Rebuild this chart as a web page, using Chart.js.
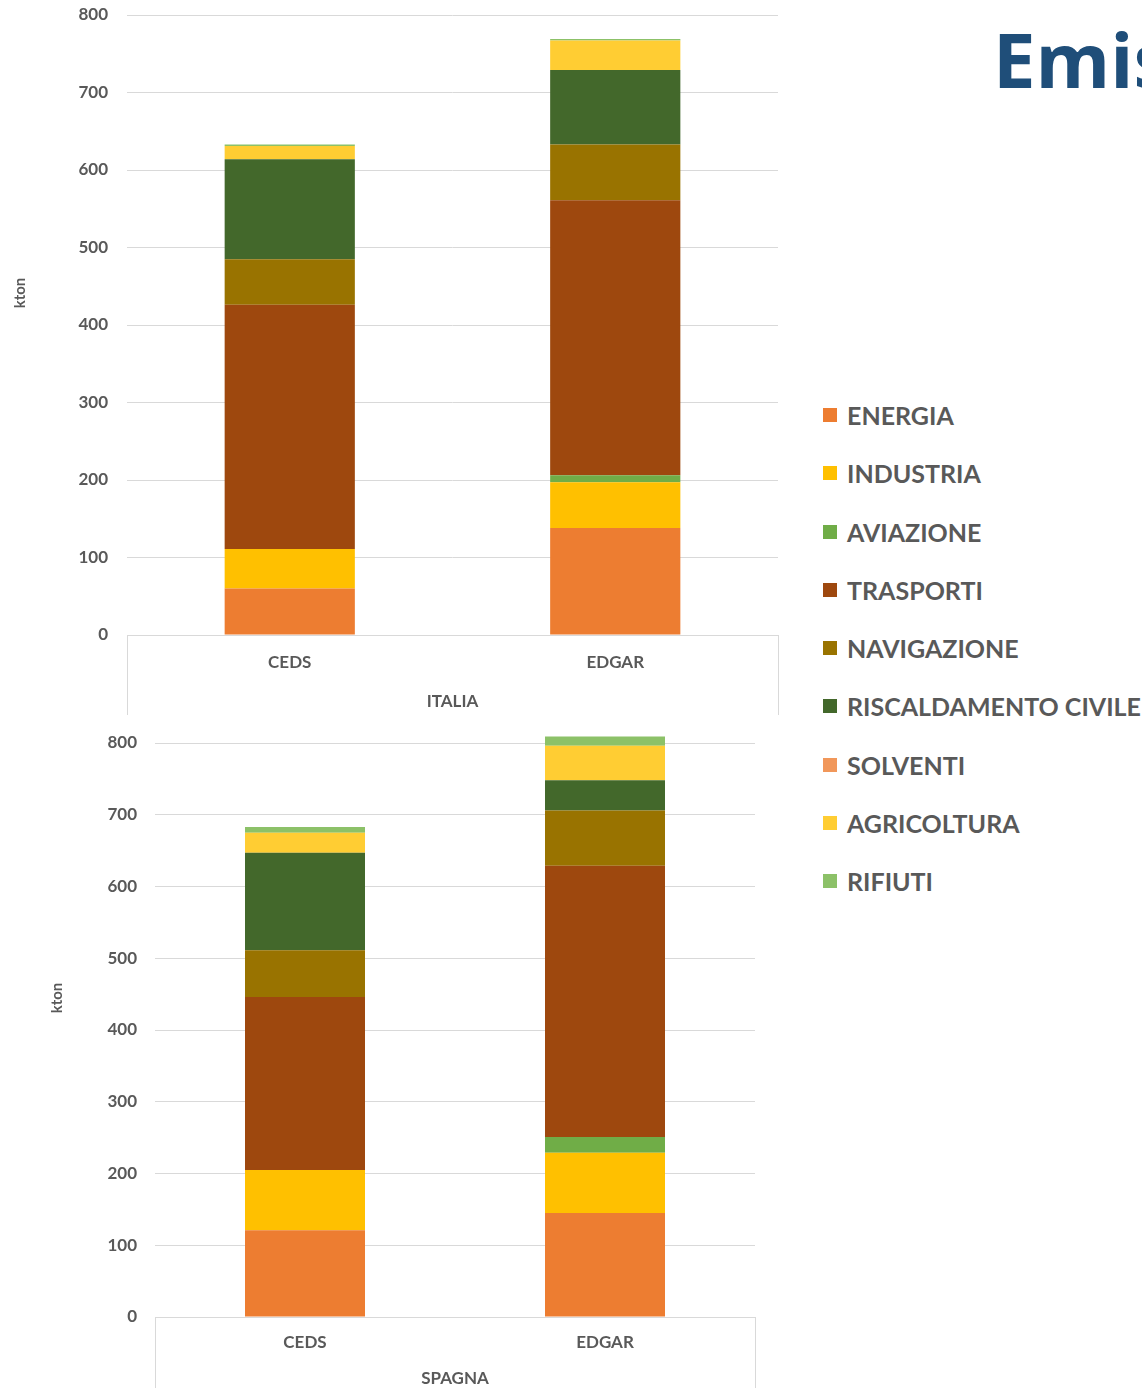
<!DOCTYPE html>
<html>
<head>
<meta charset="utf-8">
<script src="https://cdn.jsdelivr.net/npm/chart.js@4/dist/chart.umd.min.js"></script>
<style>
  html, body { margin: 0; padding: 0; background: #fff; }
  body { width: 1142px; height: 1388px; position: relative; overflow: hidden; font-family: Lato, sans-serif; }
  .box { position: absolute; left: 0; }
  #top { top: 0; width: 790px; height: 720px; }
  #bottom { top: 720px; width: 770px; height: 668px; }
  #title { position: absolute; left: 993px; top: 21px; font-family: "Open Sans", sans-serif; font-weight: 700; font-size: 76px; color: #1F4E79; white-space: nowrap; line-height: 1; }
  #legend { position: absolute; left: 823px; top: 400px; }
  .item { height: 58.25px; display: flex; align-items: flex-start; }
  .sw { width: 14px; height: 14px; margin-top: 8px; margin-right: 10px; }
  .lbl { font-family: Lato, sans-serif; font-weight: 700; font-size: 25px; color: #595959; line-height: 30px; white-space: nowrap; }
</style>
</head>
<body>
<div id="title">Emissioni</div>
<div class="box" id="top"><canvas id="cItalia"></canvas></div>
<div class="box" id="bottom"><canvas id="cSpagna"></canvas></div>
<div id="legend"></div>
<script>
const categories = ['CEDS', 'EDGAR'];
const seriesNames = ['ENERGIA', 'INDUSTRIA', 'AVIAZIONE', 'TRASPORTI', 'NAVIGAZIONE', 'RISCALDAMENTO CIVILE', 'SOLVENTI', 'AGRICOLTURA', 'RIFIUTI'];
const seriesColors = ['#ED7D31', '#FFC000', '#70AD47', '#9E480E', '#997300', '#43682B', '#F1975A', '#FFCD33', '#8CC168'];

// kton, [CEDS, EDGAR]
const italiaEnergia = [60, 138];
const italiaIndustria = [51, 59];
const italiaAviazione = [0, 9];
const italiaTrasporti = [315, 355];
const italiaNavigazione = [59, 72];
const italiaRiscaldamento = [129, 96];
const italiaSolventi = [0, 0];
const italiaAgricoltura = [17, 38];
const italiaRifiuti = [2, 2];

const spagnaEnergia = [121, 145];
const spagnaIndustria = [84, 84];
const spagnaAviazione = [0, 22];
const spagnaTrasporti = [241, 378];
const spagnaNavigazione = [65, 77];
const spagnaRiscaldamento = [136, 42];
const spagnaSolventi = [0, 0];
const spagnaAgricoltura = [28, 48];
const spagnaRifiuti = [8, 13];

const yTicks = [0, 100, 200, 300, 400, 500, 600, 700, 800];

const italiaData = [italiaEnergia, italiaIndustria, italiaAviazione, italiaTrasporti, italiaNavigazione, italiaRiscaldamento, italiaSolventi, italiaAgricoltura, italiaRifiuti];
const spagnaData = [spagnaEnergia, spagnaIndustria, spagnaAviazione, spagnaTrasporti, spagnaNavigazione, spagnaRiscaldamento, spagnaSolventi, spagnaAgricoltura, spagnaRifiuti];

const GRID = '#d9d9d9';
const TXT = '#595959';

// Excel-like category box under the axis + the "kton" unit label
const boxLines = {
  id: 'boxLines',
  afterDraw(chart, args, opts) {
    const { ctx, chartArea } = chart;
    ctx.save();
    ctx.strokeStyle = GRID;
    ctx.lineWidth = 1;
    ctx.beginPath();
    [chartArea.left, chartArea.right].forEach((x) => {
      const px = Math.round(x) + 0.5;
      ctx.moveTo(px, chartArea.bottom);
      ctx.lineTo(px, chartArea.bottom + opts.depth);
    });
    ctx.stroke();

    ctx.translate(opts.unitX, (chartArea.top + chartArea.bottom) / 2 - 32);
    ctx.rotate(-Math.PI / 2);
    ctx.fillStyle = TXT;
    ctx.font = '700 15px Lato';
    ctx.textAlign = 'center';
    ctx.textBaseline = 'middle';
    ctx.fillText('kton', 0, 0);
    ctx.restore();
  }
};

function makeChart(id, data, group, cfg) {
  const ctx = document.getElementById(id);
  return new Chart(ctx, {
    type: 'bar',
    data: {
      labels: categories,
      datasets: seriesNames.map((name, i) => ({
        label: name,
        data: data[i],
        backgroundColor: seriesColors[i],
        borderWidth: 0,
        categoryPercentage: 1,
        barPercentage: 0.4,
        clip: false
      }))
    },
    options: {
      responsive: true,
      maintainAspectRatio: false,
      animation: false,
      layout: { padding: { top: cfg.padTop, right: cfg.padRight, left: 0, bottom: 0 } },
      plugins: {
        legend: { display: false },
        tooltip: { enabled: false },
        boxLines: { depth: cfg.depth, unitX: cfg.unitX }
      },
      scales: {
        x: {
          stacked: true,
          grid: { display: false },
          border: { display: true, color: GRID, width: 1 },
          ticks: { color: TXT, font: { family: 'Lato', size: 17, weight: '700' }, padding: cfg.tickPad },
          title: { display: true, text: group, color: TXT, font: { family: 'Lato', size: 17, weight: '700' }, padding: { top: 0, bottom: cfg.titlePad } },
          afterFit: (s) => { s.height = cfg.xHeight; }
        },
        y: {
          stacked: true,
          min: 0,
          max: 800,
          afterBuildTicks: (s) => { s.ticks = yTicks.map((v) => ({ value: v })); },
          grid: { color: GRID, lineWidth: 1, drawTicks: true, tickLength: cfg.yTickLen, tickColor: 'rgba(0,0,0,0)' },
          border: { display: false },
          ticks: { color: TXT, font: { family: 'Lato', size: 17, weight: '700' }, padding: 4 },
          afterFit: (s) => { s.width = cfg.yWidth; }
        }
      }
    },
    plugins: [boxLines]
  });
}

makeChart('cItalia', italiaData, 'ITALIA', {
  padTop: 15, padRight: 12, depth: 80, tickPad: 9, titlePad: 8, xHeight: 85,
  yTickLen: 15, yWidth: 127, unitX: 20
});
makeChart('cSpagna', spagnaData, 'SPAGNA', {
  padTop: 23, padRight: 15, depth: 71, tickPad: 7, titlePad: -1, xHeight: 71,
  yTickLen: 14, yWidth: 155, unitX: 57
});

const legend = document.getElementById('legend');
seriesNames.forEach((name, i) => {
  const row = document.createElement('div');
  row.className = 'item';
  row.innerHTML = `<div class="sw" style="background:${seriesColors[i]}"></div><div class="lbl">${name}</div>`;
  legend.appendChild(row);
});
</script>
</body>
</html>
